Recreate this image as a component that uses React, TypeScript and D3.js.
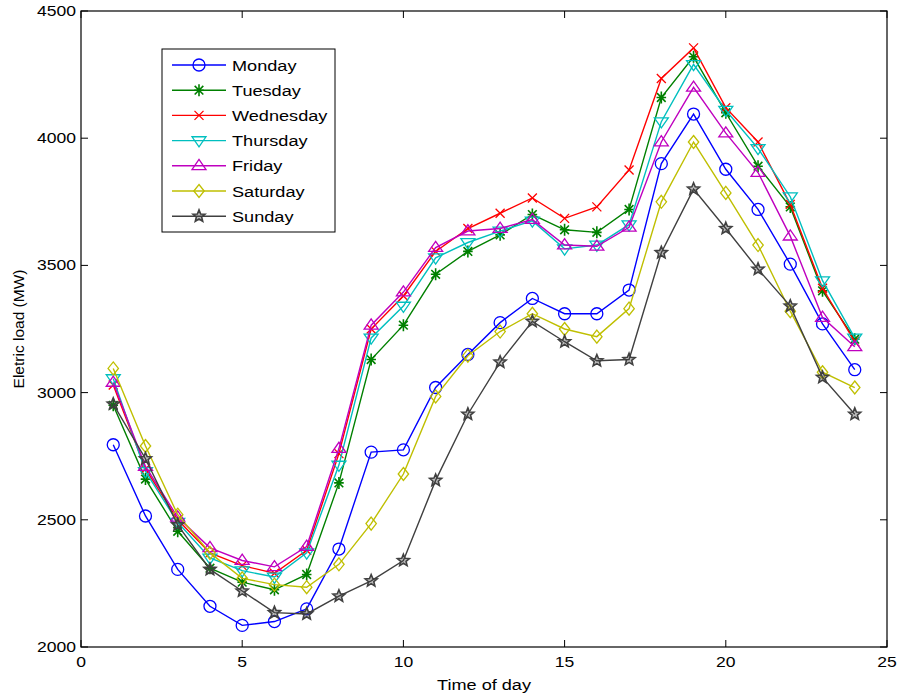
import React from "react";
import * as d3 from "d3";

const hours = d3.range(1, 25);
const monday = [2795, 2515, 2305, 2160, 2085, 2100, 2150, 2385, 2766, 2775, 3020, 3150, 3275, 3370, 3310, 3310, 3403, 3900, 4095, 3878, 3720, 3505, 3270, 3090];
const tuesday = [2950, 2660, 2455, 2310, 2255, 2225, 2285, 2645, 3130, 3265, 3465, 3555, 3620, 3700, 3640, 3630, 3720, 4160, 4320, 4100, 3890, 3730, 3400, 3210];
const wednesday = [3030, 2700, 2500, 2370, 2320, 2290, 2380, 2760, 3250, 3380, 3555, 3645, 3705, 3765, 3685, 3730, 3875, 4235, 4355, 4120, 3985, 3740, 3410, 3200];
const thursday = [3055, 2690, 2490, 2350, 2300, 2275, 2370, 2715, 3215, 3340, 3530, 3590, 3635, 3675, 3565, 3580, 3660, 4065, 4290, 4110, 3960, 3770, 3440, 3215];
const friday = [3040, 2710, 2510, 2390, 2340, 2315, 2395, 2780, 3265, 3395, 3570, 3635, 3645, 3680, 3580, 3575, 3650, 3985, 4200, 4020, 3865, 3615, 3295, 3180];
const saturday = [3095, 2790, 2520, 2370, 2270, 2245, 2235, 2325, 2485, 2680, 2985, 3145, 3240, 3310, 3250, 3220, 3330, 3750, 3985, 3785, 3580, 3320, 3080, 3020];
const sunday = [2955, 2740, 2480, 2305, 2220, 2135, 2130, 2200, 2260, 2340, 2655, 2915, 3120, 3280, 3200, 3125, 3130, 3550, 3800, 3645, 3485, 3340, 3060, 2915];

const seriesNames = ["Monday", "Tuesday", "Wednesday", "Thursday", "Friday", "Saturday", "Sunday"];
const seriesValues = [monday, tuesday, wednesday, thursday, friday, saturday, sunday];
const seriesColors = ["#0000ff", "#008000", "#ff0000", "#00bfbf", "#bf00bf", "#bfbf00", "#404040"];
const seriesMarkers = ["circle", "asterisk", "x", "tridown", "triup", "diamond", "pentagram"];

const xTicks = [0, 5, 10, 15, 20, 25];
const yTicks = [2000, 2500, 3000, 3500, 4000, 4500];

const W = 898, H = 699;
const L = 81, R = 887, T = 11, B = 647;
const FONT = "Liberation Sans, Arial, sans-serif";
const SX = 1.17;

function HText({ x, y, anchor, size, children }: { x: number; y: number; anchor?: string; size: number; children: React.ReactNode }) {
  return (
    <text transform={`translate(${x},${y}) scale(${SX},1)`} textAnchor={anchor || "start"} fontSize={size}>
      {children}
    </text>
  );
}

function Marker({ type, x, y, color }: { type: string; x: number; y: number; color: string }) {
  const sw = 1.3;
  switch (type) {
    case "circle":
      return <circle cx={x} cy={y} r={6} fill="none" stroke={color} strokeWidth={sw} />;
    case "asterisk": {
      const r = 6;
      const d = r * 0.72;
      return (
        <path
          d={`M${x},${y - r}L${x},${y + r}M${x - d},${y - d}L${x + d},${y + d}M${x - d},${y + d}L${x + d},${y - d}M${x - r * 0.8},${y}L${x + r * 0.8},${y}`}
          stroke={color}
          strokeWidth={sw + 0.3}
          fill="none"
        />
      );
    }
    case "x": {
      const d = 4.5;
      return <path d={`M${x - d},${y - d}L${x + d},${y + d}M${x - d},${y + d}L${x + d},${y - d}`} stroke={color} strokeWidth={sw} fill="none" />;
    }
    case "tridown": {
      const r = 7;
      return <path d={`M${x - r},${y - r * 0.55}L${x + r},${y - r * 0.55}L${x},${y + r * 0.9}Z`} stroke={color} strokeWidth={sw} fill="none" />;
    }
    case "triup": {
      const r = 7;
      return <path d={`M${x - r},${y + r * 0.55}L${x + r},${y + r * 0.55}L${x},${y - r * 0.9}Z`} stroke={color} strokeWidth={sw} fill="none" />;
    }
    case "diamond": {
      const r = 6.5;
      return <path d={`M${x},${y - r}L${x + r * 0.8},${y}L${x},${y + r}L${x - r * 0.8},${y}Z`} stroke={color} strokeWidth={sw} fill="none" />;
    }
    case "pentagram": {
      const pts: string[] = [];
      for (let i = 0; i < 10; i++) {
        const rr = i % 2 === 0 ? 6.3 : 2.8;
        const a = -Math.PI / 2 + (i * Math.PI) / 5;
        pts.push(`${x + rr * Math.cos(a)},${y + rr * Math.sin(a)}`);
      }
      return <path d={`M${pts.join("L")}Z`} stroke={color} strokeWidth={1.6} fill={color} fillOpacity={0.35} />;
    }
  }
  return null;
}

export default function App() {
  const x = d3.scaleLinear().domain([0, 25]).range([L, R]);
  const y = d3.scaleLinear().domain([2000, 4500]).range([B, T]);
  const line = d3
    .line<number>()
    .x((_, i) => x(hours[i]))
    .y((d) => y(d));

  const legX = 162, legY = 49, legW = 173, legH = 183;
  const rowH = 25.2;

  return (
    <svg width={W} height={H} style={{ position: "absolute", left: 0, top: 0, background: "#fff" }} fontFamily={FONT}>
      <rect x={0} y={0} width={W} height={H} fill="#fff" />
      {seriesValues.map((vals, si) => (
        <g key={seriesNames[si]}>
          <path d={line(vals) || ""} fill="none" stroke={seriesColors[si]} strokeWidth={1.4} />
          {vals.map((v, i) => (
            <Marker key={i} type={seriesMarkers[si]} x={x(hours[i])} y={y(v)} color={seriesColors[si]} />
          ))}
        </g>
      ))}
      <rect x={L} y={T} width={R - L} height={B - T} fill="none" stroke="#000" strokeWidth={1.2} />
      {xTicks.map((t) => (
        <g key={"x" + t}>
          <line x1={x(t)} x2={x(t)} y1={B} y2={B - 7} stroke="#000" strokeWidth={1} />
          <line x1={x(t)} x2={x(t)} y1={T} y2={T + 7} stroke="#000" strokeWidth={1} />
          <HText x={x(t)} y={B + 20} anchor="middle" size={15}>
            {t}
          </HText>
        </g>
      ))}
      {yTicks.map((t) => (
        <g key={"y" + t}>
          <line x1={L} x2={L + 7} y1={y(t)} y2={y(t)} stroke="#000" strokeWidth={1} />
          <line x1={R} x2={R - 7} y1={y(t)} y2={y(t)} stroke="#000" strokeWidth={1} />
          <HText x={L - 5} y={y(t) + 5} anchor="end" size={15}>
            {t}
          </HText>
        </g>
      ))}
      <HText x={(L + R) / 2} y={690} anchor="middle" size={15.5}>
        Time of day
      </HText>
      <text transform={`translate(24,${(T + B) / 2}) rotate(-90)`} textAnchor="middle" fontSize={15.5}>
        Eletric load (MW)
      </text>
      <rect x={legX} y={legY} width={legW} height={legH} fill="#fff" stroke="#000" strokeWidth={1} />
      {seriesNames.map((n, i) => {
        const cy = legY + 16 + i * rowH;
        return (
          <g key={"leg" + n}>
            <line x1={legX + 10} x2={legX + 64} y1={cy} y2={cy} stroke={seriesColors[i]} strokeWidth={1.4} />
            <Marker type={seriesMarkers[i]} x={legX + 37} y={cy} color={seriesColors[i]} />
            <HText x={legX + 70} y={cy + 5.5} size={15.5}>
              {n}
            </HText>
          </g>
        );
      })}
    </svg>
  );
}
